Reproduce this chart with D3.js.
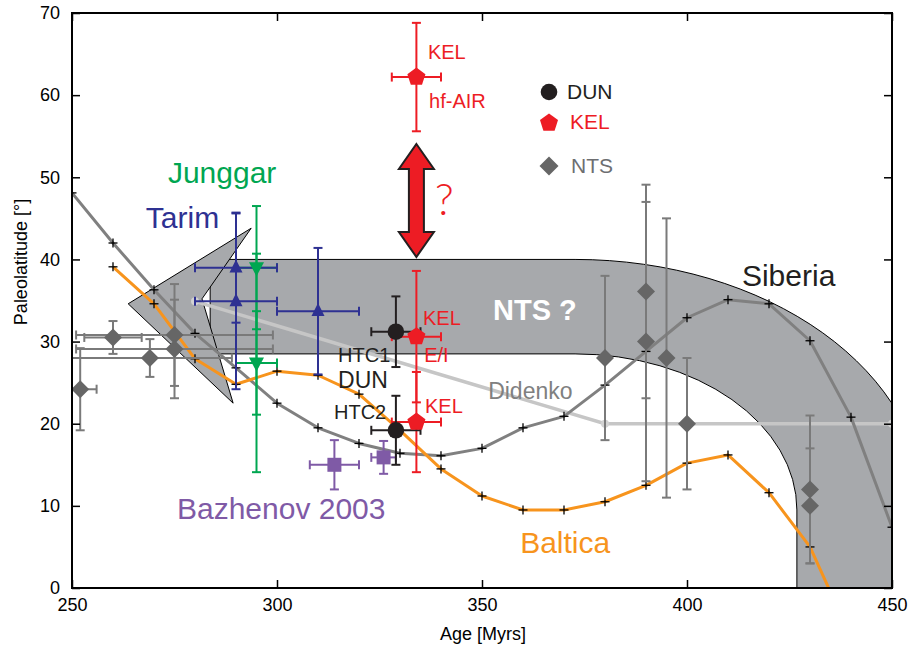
<!DOCTYPE html>
<html>
<head>
<meta charset="utf-8">
<script src="https://cdn.jsdelivr.net/npm/d3@7"></script>
<style>
  body { margin: 0; background: #fff; }
  svg { display: block; font-family: "Liberation Sans", Arial, sans-serif; }
</style>
</head>
<body>
<svg id="chart" width="909" height="646"></svg>
<script>
// ---------- Apparent polar wander reference curves ----------
const siberiaAge = [250, 260, 270, 280, 290, 300, 310, 320, 330, 340, 350, 360, 370, 380, 390, 400, 410, 420, 430, 440, 450];
const siberiaLat = [48.1, 42.0, 36.3, 31.0, 26.8, 22.5, 19.5, 17.6, 16.4, 16.1, 17.0, 19.5, 20.9, 24.7, 28.8, 32.9, 35.1, 34.6, 30.1, 20.8, 7.4];

const balticaAge = [260, 270, 280, 290, 300, 310, 320, 330, 340, 350, 360, 370, 380, 390, 400, 410, 420, 430, 440];
const balticaLat = [39.1, 34.6, 27.9, 24.8, 26.4, 25.9, 23.6, 19.2, 14.5, 11.2, 9.5, 9.5, 10.5, 12.5, 15.2, 16.2, 11.6, 5.0, -6.0];

const didenkoAge = [280, 380, 450];
const didenkoLat = [34.9, 20.0, 20.0];

// ---------- Paleomagnetic poles ----------
const kelAge = [334, 334, 334];
const kelLat = [62.2, 30.6, 20.2];
const kelErrLat = [6.6, 8.0, 6.1];
const kelErrAge = [6, 6, 6];

const dunAge = [329, 329];
const dunLat = [31.2, 19.2];
const dunErrLat = [4.3, 4.2];
const dunErrAge = [6, 6];

const bazhenovAge = [314, 326];
const bazhenovLat = [15.0, 15.9];
const bazhenovErrLat = [3.0, 2.0];
const bazhenovErrAge = [6, 3];

const tarimAge = [290, 290, 310];
const tarimLat = [39.0, 34.9, 33.7];
const tarimErrLat = [6.7, 10.7, 7.7];
const tarimErrAge = [10, 10, 10];

const junggarAge = [295, 295];
const junggarLat = [39.0, 27.4];
const junggarErrLat = [7.5, 6.3];
const junggarErrLatOuter = [0, 13.3];
const junggarErrAge = [5, 5];

const ntsAge = [252, 260, 269, 275, 275, 380, 390, 390, 395, 400, 430, 430];
const ntsLat = [24.2, 30.5, 28.0, 30.8, 29.1, 28.0, 36.1, 30.0, 28.0, 20.0, 12.0, 10.0];
const ntsErrLat = [5, 2, 2.3, 6.2, 6, 10, 13, 17, 17, 8, 9, 7];
const ntsErrAge = [4, 7, 20, 24, 24, 0, 0, 0, 0, 0, 0, 0];

// ---------- Axis ticks ----------
const ageTicks = [250, 300, 350, 400, 450];
const latTicks = [0, 10, 20, 30, 40, 50, 60, 70];

// ---------- Colours ----------
const C = {
  black: "#231f20", red: "#ed1c24", blue: "#2e3192", green: "#00a651",
  purple: "#7f5aa6", orange: "#f7941d", siberia: "#808080", didenko: "#c6c6c6",
  ntsBar: "#7a7a7a", ntsMark: "#666666", band: "#a7a9ac"
};

const svg = d3.select("#chart");
const x = d3.scaleLinear().domain([250, 450]).range([72, 892]);
const y = d3.scaleLinear().domain([0, 70]).range([588, 13]);

svg.append("defs").append("clipPath").attr("id", "plot")
  .append("rect").attr("x", 72).attr("y", 13).attr("width", 820).attr("height", 575);

const plot = svg.append("g").attr("clip-path", "url(#plot)");

const zip = (a, b) => a.map((v, i) => [v, b[i]]);

// ---------- NTS band (shaft, bend and arrow head) ----------
const band = { startAge: 283.7, top: 40, bottom: 28.5, cAge: 372.7, cLat: 9.5,
               outerAge: 85.4, innerAge: 54.1 };
{
  const cx = x(band.cAge), cy = y(band.cLat);
  const rxo = x(band.cAge + band.outerAge) - cx, ryo = cy - y(band.top);
  const rxi = x(band.cAge + band.innerAge) - cx, ryi = cy - y(band.bottom);
  const below = y(-3);
  const p = d3.path();
  p.moveTo(x(band.startAge), y(band.top));
  p.lineTo(cx, y(band.top));
  let d = p.toString();
  d += ` A ${rxo} ${ryo} 0 0 1 ${cx + rxo} ${cy}`;
  d += ` L ${cx + rxo} ${below} L ${cx + rxi} ${below} L ${cx + rxi} ${cy}`;
  d += ` A ${rxi} ${ryi} 0 0 0 ${cx} ${y(band.bottom)}`;
  d += ` L ${x(band.startAge)} ${y(band.bottom)} Z`;
  plot.append("path").attr("d", d).attr("fill", C.band)
    .attr("stroke", "#000").attr("stroke-width", 1);

  const head = [[263.7, 34.6], [293.7, 43.8], [281.7, 35.2], [289.3, 22.5]];
  plot.append("path")
    .attr("d", d3.line().x(d => x(d[0])).y(d => y(d[1]))(head) + "Z")
    .attr("fill", C.band).attr("stroke", "#000").attr("stroke-width", 1)
    .attr("stroke-linejoin", "miter");
}

// ---------- Reference curves ----------
const lineGen = d3.line().x(d => x(d[0])).y(d => y(d[1]));

plot.append("path").datum(zip(didenkoAge, didenkoLat)).attr("d", lineGen)
  .attr("fill", "none").attr("stroke", C.didenko).attr("stroke-width", 3.5);
plot.selectAll(".dd").data(zip(didenkoAge, didenkoLat)).join("circle")
  .attr("cx", d => x(d[0])).attr("cy", d => y(d[1])).attr("r", 4).attr("fill", "#d2d2d2");

function crosses(data) {
  const g = plot.append("g").attr("stroke", "#000").attr("stroke-width", 1.3);
  data.forEach(d => {
    const px = x(d[0]), py = y(d[1]);
    g.append("line").attr("x1", px - 4.5).attr("x2", px + 4.5).attr("y1", py).attr("y2", py);
    g.append("line").attr("x1", px).attr("x2", px).attr("y1", py - 4.5).attr("y2", py + 4.5);
  });
}

plot.append("path").datum(zip(siberiaAge, siberiaLat)).attr("d", lineGen)
  .attr("fill", "none").attr("stroke", C.siberia).attr("stroke-width", 3)
  .attr("stroke-linejoin", "round");
crosses(zip(siberiaAge, siberiaLat));

plot.append("path").datum(zip(balticaAge, balticaLat)).attr("d", lineGen)
  .attr("fill", "none").attr("stroke", C.orange).attr("stroke-width", 3)
  .attr("stroke-linejoin", "round");
crosses(zip(balticaAge, balticaLat));

// ---------- Error bars ----------
function errorBars(ages, lats, dLat, dAge, color, width) {
  const g = plot.append("g").attr("stroke", color).attr("stroke-width", width).attr("fill", "none");
  const cap = 4.5;
  ages.forEach((a, i) => {
    const px = x(a), py = y(lats[i]);
    if (dLat[i] > 0) {
      const t = y(lats[i] + dLat[i]), b = y(lats[i] - dLat[i]);
      g.append("line").attr("x1", px).attr("x2", px).attr("y1", t).attr("y2", b);
      g.append("line").attr("x1", px - cap).attr("x2", px + cap).attr("y1", t).attr("y2", t);
      g.append("line").attr("x1", px - cap).attr("x2", px + cap).attr("y1", b).attr("y2", b);
    }
    if (dAge[i] > 0) {
      const l = x(a - dAge[i]), r = x(a + dAge[i]);
      g.append("line").attr("x1", l).attr("x2", r).attr("y1", py).attr("y2", py);
      g.append("line").attr("x1", l).attr("x2", l).attr("y1", py - cap).attr("y2", py + cap);
      g.append("line").attr("x1", r).attr("x2", r).attr("y1", py - cap).attr("y2", py + cap);
    }
  });
}

const zeros = a => a.map(() => 0);

errorBars(ntsAge, ntsLat, ntsErrLat, ntsErrAge, C.ntsBar, 2);
errorBars(junggarAge, junggarLat, junggarErrLatOuter, zeros(junggarAge), C.green, 2);
errorBars(junggarAge, junggarLat, junggarErrLat, junggarErrAge, C.green, 2);
errorBars(tarimAge, tarimLat, tarimErrLat, tarimErrAge, C.blue, 2);
errorBars(bazhenovAge, bazhenovLat, bazhenovErrLat, bazhenovErrAge, C.purple, 2);
errorBars(kelAge, kelLat, kelErrLat, kelErrAge, C.red, 2);
errorBars(dunAge, dunLat, dunErrLat, dunErrAge, C.black, 2);

// ---------- Symbols ----------
const pentagon = r => {
  const pts = d3.range(5).map(k => {
    const a = -Math.PI / 2 + k * 2 * Math.PI / 5;
    return [r * Math.cos(a), r * Math.sin(a)];
  });
  return "M" + pts.map(p => p.join(",")).join("L") + "Z";
};
const diamond = r => `M0,${-r}L${r},0L0,${r}L${-r},0Z`;
const triUp = (w, h) => `M0,${-h * 0.62}L${w / 2},${h * 0.38}L${-w / 2},${h * 0.38}Z`;
const triDown = (w, h) => `M0,${h * 0.62}L${w / 2},${-h * 0.38}L${-w / 2},${-h * 0.38}Z`;

function marks(ages, lats, path, color) {
  plot.append("g").selectAll("path").data(zip(ages, lats)).join("path")
    .attr("transform", d => `translate(${x(d[0])},${y(d[1])})`)
    .attr("d", path).attr("fill", color);
}

marks(ntsAge, ntsLat, diamond(9), C.ntsMark);
marks(junggarAge, junggarLat, triDown(15, 14), C.green);
marks(tarimAge, tarimLat, triUp(13, 13), C.blue);
marks(bazhenovAge, bazhenovLat, "M-7,-7H7V7H-7Z", C.purple);
marks(kelAge, kelLat, pentagon(9.5), C.red);
plot.append("g").selectAll("circle").data(zip(dunAge, dunLat)).join("circle")
  .attr("cx", d => x(d[0])).attr("cy", d => y(d[1])).attr("r", 8.3).attr("fill", C.black);

// ---------- Double-headed arrow between the KEL poles ----------
const arrow = { age: 334, top: 54.05, bottom: 40.3 };
{
  const ax = x(arrow.age), t = y(arrow.top), b = y(arrow.bottom);
  const hw = 17.5, sw = 7.5, hl = 25;
  const pts = [[ax, t], [ax + hw, t + hl], [ax + sw, t + hl], [ax + sw, b - hl], [ax + hw, b - hl],
               [ax, b], [ax - hw, b - hl], [ax - sw, b - hl], [ax - sw, t + hl], [ax - hw, t + hl]];
  svg.append("path").attr("d", "M" + pts.map(p => p.join(",")).join("L") + "Z")
    .attr("fill", C.red).attr("stroke", C.black).attr("stroke-width", 2)
    .attr("stroke-linejoin", "miter");
}

// ---------- Axes ----------
const axG = svg.append("g").attr("font-family", "Liberation Sans, Arial, sans-serif");
const styleAxis = g => {
  g.select(".domain").remove();
  g.selectAll(".tick line").attr("stroke", "#000").attr("stroke-width", 1.5);
  g.selectAll(".tick text").attr("fill", "#000").attr("font-size", 18)
    .attr("font-family", "Liberation Sans, Arial, sans-serif");
};
axG.append("g").attr("transform", "translate(0,588)")
  .call(d3.axisBottom(x).tickValues(ageTicks).tickSize(-8).tickPadding(10)).call(styleAxis);
axG.append("g").attr("transform", "translate(72,0)")
  .call(d3.axisLeft(y).tickValues(latTicks).tickSize(-8).tickPadding(12)).call(styleAxis);
axG.append("g").attr("transform", "translate(0,13)")
  .call(d3.axisTop(x).tickValues(ageTicks).tickSize(-8).tickFormat("")).call(styleAxis);
axG.append("g").attr("transform", "translate(892,0)")
  .call(d3.axisRight(y).tickValues(latTicks).tickSize(-8).tickFormat("")).call(styleAxis);
svg.append("rect").attr("x", 72).attr("y", 13).attr("width", 820).attr("height", 575)
  .attr("fill", "none").attr("stroke", "#000").attr("stroke-width", 2);

svg.append("text").attr("x", 483).attr("y", 640).attr("text-anchor", "middle")
  .attr("font-size", 18).attr("fill", "#000").text("Age [Myrs]");
svg.append("text").attr("transform", "translate(27,262) rotate(-90)").attr("text-anchor", "middle")
  .attr("font-size", 18).attr("fill", "#000").text("Paleolatitude [°]");

// ---------- Annotations ----------
const labels = [
  { t: "Junggar", age: 273.4, lat: 49.3, c: C.green, s: 30 },
  { t: "Tarim", age: 268.0, lat: 43.8, c: C.blue, s: 30 },
  { t: "Siberia", age: 413.4, lat: 36.8, c: C.black, s: 30 },
  { t: "Baltica", age: 359.3, lat: 4.3, c: C.orange, s: 30 },
  { t: "Bazhenov 2003", age: 275.6, lat: 8.4, c: C.purple, s: 30 },
  { t: "NTS ?", age: 352.7, lat: 32.6, c: "#fff", s: 29, w: "bold" },
  { t: "HTC1", age: 314.9, lat: 27.5, c: C.black, s: 20 },
  { t: "DUN", age: 314.9, lat: 24.3, c: C.black, s: 23 },
  { t: "HTC2", age: 313.9, lat: 20.6, c: C.black, s: 20 },
  { t: "KEL", age: 335.6, lat: 32.0, c: C.red, s: 20 },
  { t: "E/I", age: 335.9, lat: 27.5, c: C.red, s: 20 },
  { t: "KEL", age: 336.1, lat: 21.3, c: C.red, s: 20 },
  { t: "KEL", age: 336.8, lat: 64.4, c: C.red, s: 20 },
  { t: "hf-AIR", age: 337.1, lat: 58.4, c: C.red, s: 20 },
  { t: "Didenko", age: 351.5, lat: 23.0, c: "#808080", s: 23 },
  { t: "?", age: 338.5, lat: 45.4, c: C.red, s: 44, w: 300, f: "Lato, 'Open Sans', sans-serif" }
];
svg.append("g").selectAll("text").data(labels).join("text")
  .attr("x", d => x(d.age)).attr("y", d => y(d.lat))
  .attr("font-size", d => d.s).attr("fill", d => d.c)
  .attr("font-weight", d => d.w || "normal")
  .attr("font-family", d => d.f || null)
  .text(d => d.t);

// ---------- Legend ----------
const leg = svg.append("g").attr("transform", "translate(549,92)");
leg.append("circle").attr("r", 8.3).attr("fill", C.black);
leg.append("text").attr("x", 18).attr("y", 7).attr("font-size", 21).attr("fill", C.black).text("DUN");
leg.append("path").attr("transform", "translate(0,31)").attr("d", pentagon(9.5)).attr("fill", C.red);
leg.append("text").attr("x", 21).attr("y", 37).attr("font-size", 21).attr("fill", C.red).text("KEL");
leg.append("path").attr("transform", "translate(0,74)").attr("d", diamond(9.5)).attr("fill", C.ntsMark);
leg.append("text").attr("x", 22).attr("y", 81).attr("font-size", 21).attr("fill", "#6d6e71").text("NTS");
</script>
</body>
</html>
